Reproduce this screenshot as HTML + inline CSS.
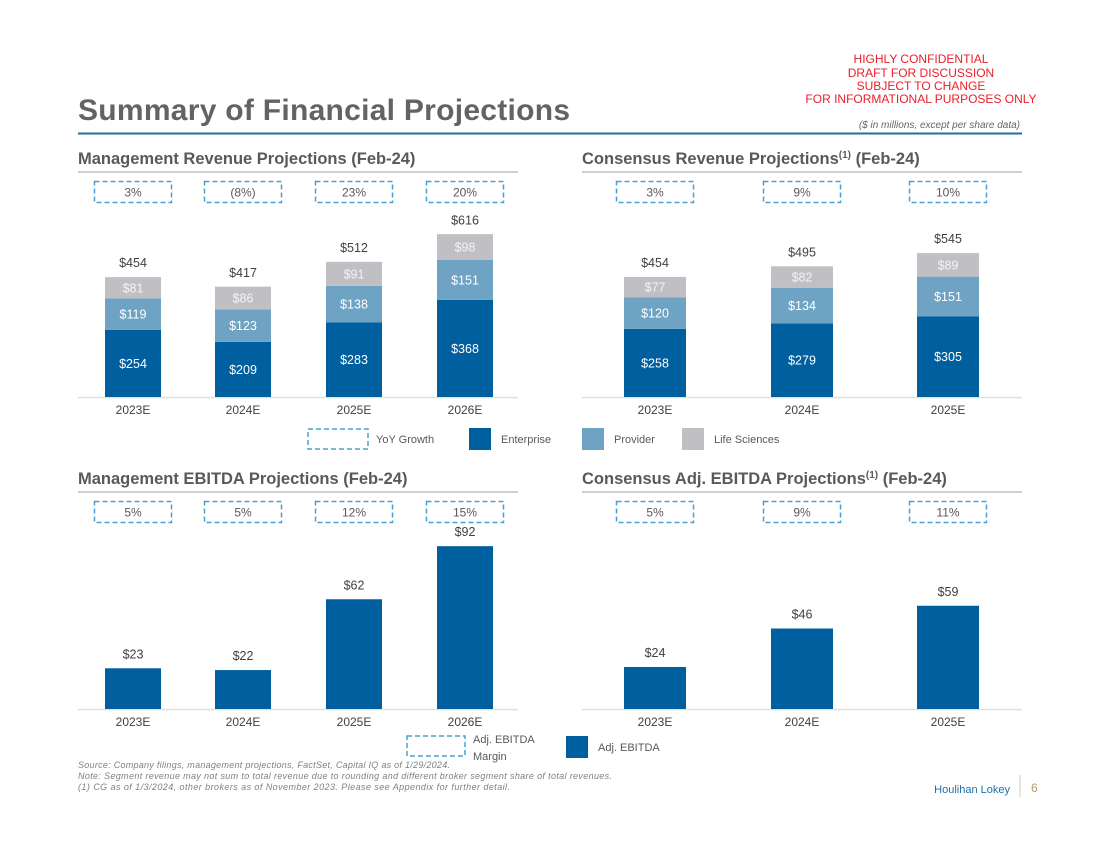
<!DOCTYPE html>
<html><head><meta charset="utf-8"><style>
body{margin:0;background:#fff;font-family:"Liberation Sans",Arial,sans-serif}
svg{display:block}
</style></head><body>
<svg id="s" width="1100" height="849" xmlns="http://www.w3.org/2000/svg" font-family="Liberation Sans, Arial, sans-serif">
<g fill="#e8212b" font-size="12" text-anchor="middle">
<text x="921" y="63">HIGHLY CONFIDENTIAL</text>
<text x="921" y="77">DRAFT FOR DISCUSSION</text>
<text x="921" y="90">SUBJECT TO CHANGE</text>
<text x="921" y="103">FOR INFORMATIONAL PURPOSES ONLY</text>
</g>
<text x="78" y="120" font-size="30" font-weight="bold" fill="#636363" textLength="492">Summary of Financial Projections</text>
<text x="1020" y="128" font-size="10" font-style="italic" fill="#666" text-anchor="end">($ in millions, except per share data)</text>
<line x1="78" y1="133.5" x2="1022" y2="133.5" stroke="#1f6fa8" stroke-width="2"/>
<g font-size="16.5" font-weight="bold" fill="#595959">
<text x="78" y="164">Management Revenue Projections (Feb-24)</text>
<text x="582" y="164">Consensus Revenue Projections<tspan font-size="10" dy="-6">(1)</tspan><tspan dy="6"> (Feb-24)</tspan></text>
<text x="78" y="484">Management EBITDA Projections (Feb-24)</text>
<text x="582" y="484">Consensus Adj. EBITDA Projections<tspan font-size="10" dy="-6">(1)</tspan><tspan dy="6"> (Feb-24)</tspan></text>
</g>
<g stroke="#bfbfbf" stroke-width="1.5">
<line x1="78" y1="172" x2="518" y2="172"/><line x1="582" y1="172" x2="1022" y2="172"/>
<line x1="78" y1="492" x2="518" y2="492"/><line x1="582" y1="492" x2="1022" y2="492"/>
</g>
<g id="charts"></g>
<g font-size="11" fill="#595959">
<rect x="308" y="429" width="60" height="20" fill="none" stroke="#4a9fd0" stroke-width="1.5" stroke-dasharray="5,3"/>
<text x="376" y="443">YoY Growth</text>
<rect x="469" y="428" width="22" height="22" fill="#005f9e"/><text x="501" y="443">Enterprise</text>
<rect x="582" y="428" width="22" height="22" fill="#6fa3c4"/><text x="614" y="443">Provider</text>
<rect x="682" y="428" width="22" height="22" fill="#c0c0c4"/><text x="714" y="443">Life Sciences</text>
</g>
<g font-size="11" fill="#595959">
<rect x="407" y="736" width="58" height="20" fill="none" stroke="#4a9fd0" stroke-width="1.5" stroke-dasharray="5,3"/>
<text x="473" y="743">Adj. EBITDA</text><text x="473" y="760">Margin</text>
<rect x="566" y="736" width="22" height="22" fill="#005f9e"/><text x="598" y="751">Adj. EBITDA</text>
</g>
<g font-size="9" font-style="italic" fill="#808080">
<text x="78" y="768" textLength="372">Source: Company filings, management projections, FactSet, Capital IQ as of 1/29/2024.</text>
<text x="78" y="779" textLength="534">Note: Segment revenue may not sum to total revenue due to rounding and different broker segment share of total revenues.</text>
<text x="78" y="790" textLength="432">(1)    CG as of 1/3/2024, other brokers as of November 2023. Please see Appendix for further detail.</text>
</g>
<text x="1010" y="793" font-size="11" fill="#1f6fa8" text-anchor="end">Houlihan Lokey</text>
<line x1="1020" y1="775" x2="1020" y2="797" stroke="#ccc"/>
<text x="1031" y="792" font-size="12" fill="#b59a6a">6</text>
</svg>
<script>
const mgmtYears=["2023E","2024E","2025E","2026E"];
const mgmtEnterprise=[254,209,283,368];
const mgmtProvider=[119,123,138,151];
const mgmtLife=[81,86,91,98];
const mgmtTotal=[454,417,512,616];
const mgmtRevGrowth=["3%","(8%)","23%","20%"];
const consYears=["2023E","2024E","2025E"];
const consEnterprise=[258,279,305];
const consProvider=[120,134,151];
const consLife=[77,82,89];
const consTotal=[454,495,545];
const consRevGrowth=["3%","9%","10%"];
const mgmtEbitda=[23,22,62,92];
const mgmtEbitdaMargin=["5%","5%","12%","15%"];
const consEbitda=[24,46,59];
const consEbitdaMargin=["5%","9%","11%"];

const NS="http://www.w3.org/2000/svg";
const root=document.getElementById('charts');
function mk(tag,attrs,parent,txt){const e=document.createElementNS(NS,tag);for(const k in attrs)e.setAttribute(k,attrs[k]);if(txt!==undefined)e.textContent=txt;(parent||root).appendChild(e);return e;}

function chart(name,x0,x1,centers,bw,base,scale,cats,stacks,colors,totals,growth,boxY,prefix){
  const g=mk('g',{});
  
  
  mk('line',{x1:x0,y1:base+0.5,x2:x1,y2:base+0.5,stroke:'#e0e0e0','stroke-width':1.5},g);
  const y=v=>base-v*scale;
  cats.forEach((c,i)=>{
    const cx=centers[i];
    let acc=0;
    stacks.forEach((s,j)=>{
      const v=s[i];
      const r=mk('rect',{x:cx-bw/2,y:y(acc+v),width:bw,height:v*scale,fill:colors[j]},g);
      
      
      if(stacks.length>1){
        const t=mk('text',{x:cx,y:y(acc+v/2)+4.5,'font-size':12.5,fill:j==2?'#f4f4f4':'#fff','text-anchor':'middle'},g,'$'+v);
        
        
      }
      acc+=v;
    });
    const tot=totals?totals[i]:acc;
    const tl=mk('text',{x:cx,y:y(tot)-10,'font-size':12.5,fill:'#404040','text-anchor':'middle'},g,'$'+tot);
    
    
    const al=mk('text',{x:cx,y:base+17,'font-size':12,fill:'#404040','text-anchor':'middle'},g,c);
    
    
    const b=mk('rect',{x:cx-38.5,y:boxY,width:77,height:21,fill:'none',stroke:'#4a9fd0','stroke-width':1.5,'stroke-dasharray':'5,3'},g);
    
    
    const gt=mk('text',{x:cx,y:boxY+15,'font-size':12,fill:'#595959','text-anchor':'middle'},g,growth[i]);
    
    
  });
}
const C3=['#005f9e','#6fa3c4','#c0c0c4'];
chart('management-revenue-chart',78,518,[133,243,354,465],56,397,0.264,mgmtYears,[mgmtEnterprise,mgmtProvider,mgmtLife],C3,mgmtTotal,mgmtRevGrowth,181.5,'mgmt-rev');
chart('consensus-revenue-chart',582,1022,[655,802,948],62,397,0.264,consYears,[consEnterprise,consProvider,consLife],C3,consTotal,consRevGrowth,181.5,'cons-rev');
chart('management-ebitda-chart',78,518,[133,243,354,465],56,709,1.77,mgmtYears,[mgmtEbitda],['#005f9e'],null,mgmtEbitdaMargin,501.5,'mgmt-ebitda');
chart('consensus-ebitda-chart',582,1022,[655,802,948],62,709,1.75,consYears,[consEbitda],['#005f9e'],null,consEbitdaMargin,501.5,'cons-ebitda');
</script>
</body></html>
